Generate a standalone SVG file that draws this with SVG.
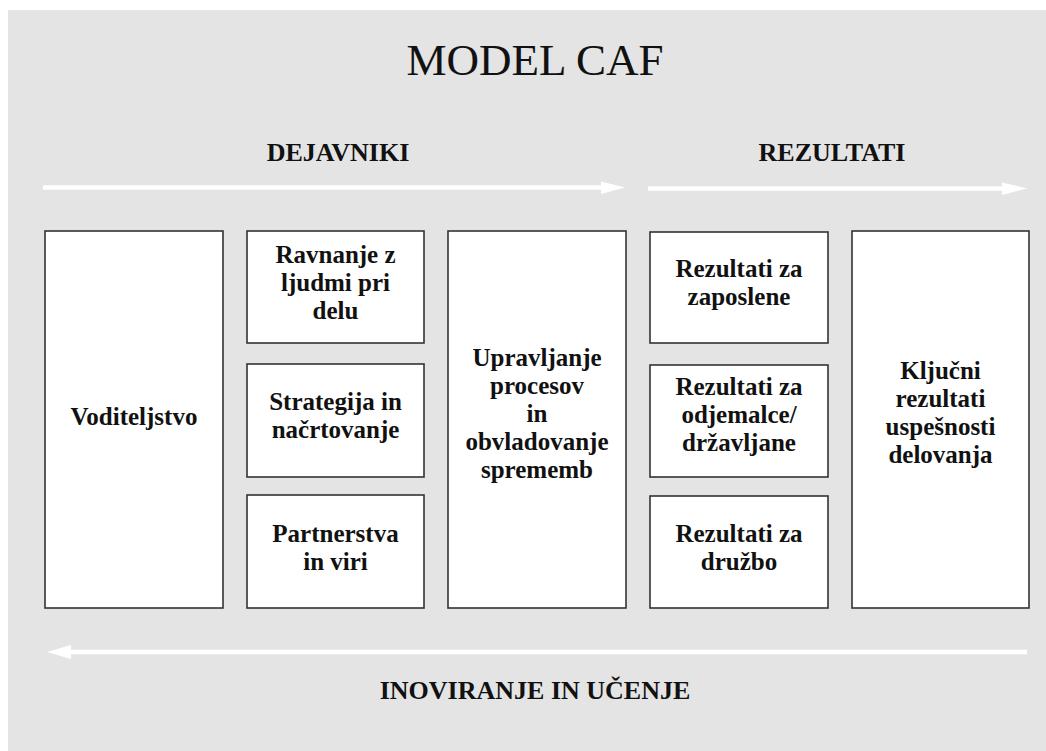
<svg xmlns="http://www.w3.org/2000/svg" width="1046" height="751" viewBox="0 0 1046 751">
<style>
.box{fill:#ffffff;stroke:#333333;stroke-width:1.6}
.t{font-family:"Liberation Serif","Times New Roman",serif;font-weight:bold;font-size:25px;fill:#111111;text-anchor:middle}
.h{font-family:"Liberation Serif","Times New Roman",serif;font-weight:bold;font-size:26px;fill:#111111;text-anchor:middle}
.arr{stroke:#ffffff;stroke-width:4.5;fill:none}
.head{fill:#ffffff}
</style>
<rect x="0" y="0" width="1046" height="751" fill="#ffffff"/>
<rect x="8" y="10" width="1038" height="741" fill="#e4e4e4"/>
<text x="535" y="75" font-family="Liberation Serif, Times New Roman, serif" font-size="45" fill="#111111" text-anchor="middle">MODEL CAF</text>
<text class="h" x="338" y="161">DEJAVNIKI</text>
<text class="h" x="832" y="161">REZULTATI</text>
<g id="connectors">
<line class="arr" x1="43" y1="187.5" x2="605" y2="187.5"/>
<polygon class="head" points="601,181.5 625,187.5 601,194"/>
<line class="arr" x1="648" y1="188.5" x2="1006" y2="188.5"/>
<polygon class="head" points="1002,182.5 1027,188.5 1002,195"/>
<line class="arr" x1="68" y1="652" x2="1027" y2="652"/>
<polygon class="head" points="71,645 47,652 71,659"/>
</g>
<g id="voditeljstvo">
<rect class="box" x="45" y="231" width="178" height="377"/>
<text class="t" x="134" y="425">Voditeljstvo</text>
</g>
<g id="ravnanje">
<rect class="box" x="247" y="231" width="177" height="112"/>
<text class="t" x="335.5" y="263">Ravnanje z</text>
<text class="t" x="335.5" y="291">ljudmi pri</text>
<text class="t" x="335.5" y="319">delu</text>
</g>
<g id="strategija">
<rect class="box" x="247" y="364" width="177" height="113"/>
<text class="t" x="335.5" y="410">Strategija in</text>
<text class="t" x="335.5" y="438">načrtovanje</text>
</g>
<g id="partnerstva">
<rect class="box" x="247" y="495" width="177" height="113"/>
<text class="t" x="335.5" y="542">Partnerstva</text>
<text class="t" x="335.5" y="570">in viri</text>
</g>
<g id="upravljanje">
<rect class="box" x="448" y="231" width="178" height="377"/>
<text class="t" x="537" y="366">Upravljanje</text>
<text class="t" x="537" y="394">procesov</text>
<text class="t" x="537" y="422">in</text>
<text class="t" x="537" y="450">obvladovanje</text>
<text class="t" x="537" y="478">sprememb</text>
</g>
<g id="zaposlene">
<rect class="box" x="650" y="232" width="178" height="111"/>
<text class="t" x="739" y="277">Rezultati za</text>
<text class="t" x="739" y="305">zaposlene</text>
</g>
<g id="odjemalce">
<rect class="box" x="650" y="365" width="178" height="112"/>
<text class="t" x="739" y="395">Rezultati za</text>
<text class="t" x="739" y="423">odjemalce/</text>
<text class="t" x="739" y="451">državljane</text>
</g>
<g id="druzbo">
<rect class="box" x="650" y="496" width="178" height="112"/>
<text class="t" x="739" y="542">Rezultati za</text>
<text class="t" x="739" y="570">družbo</text>
</g>
<g id="kljucni">
<rect class="box" x="852" y="231" width="177" height="377"/>
<text class="t" x="940.5" y="379">Ključni</text>
<text class="t" x="940.5" y="407">rezultati</text>
<text class="t" x="940.5" y="435">uspešnosti</text>
<text class="t" x="940.5" y="463">delovanja</text>
</g>
<text class="h" x="535" y="699">INOVIRANJE IN UČENJE</text>
</svg>
